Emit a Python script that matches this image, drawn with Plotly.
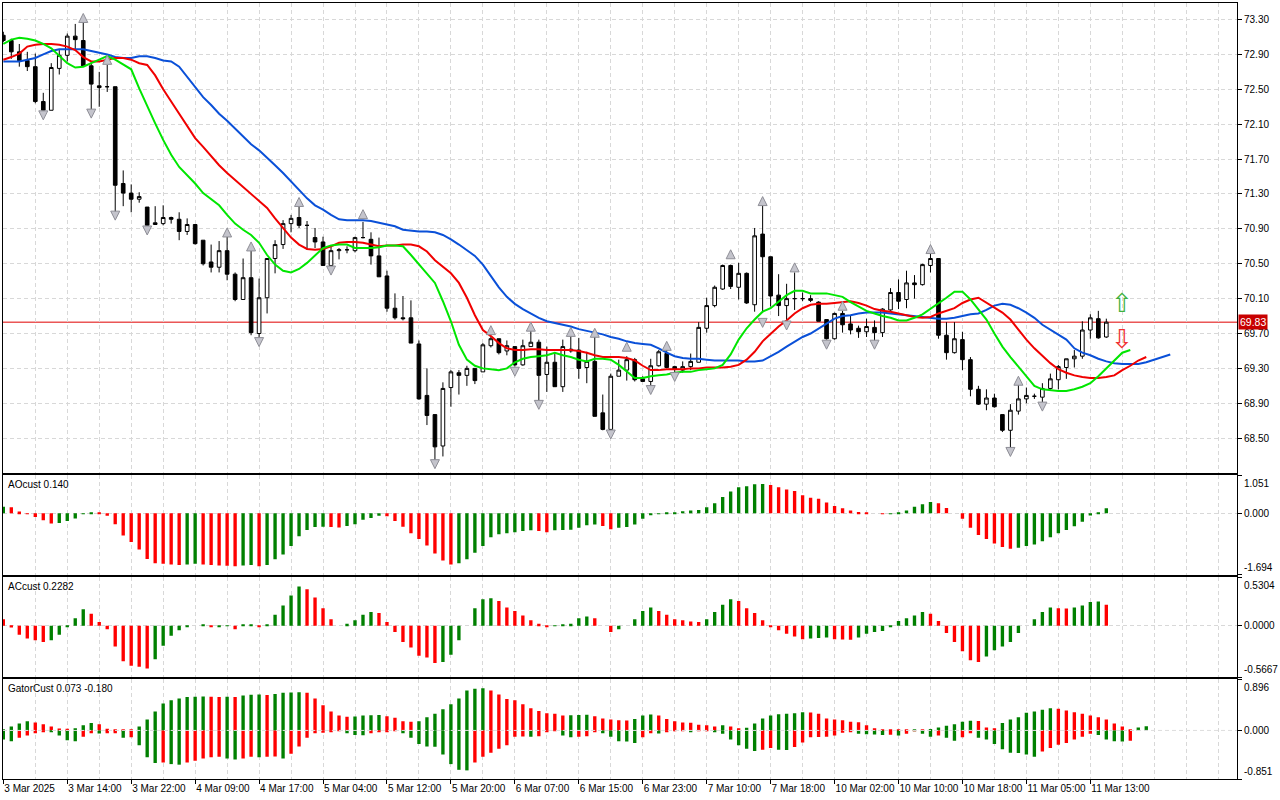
import plotly.graph_objects as go
from plotly.subplots import make_subplots

# hourly bars, bar 0 is the half hidden candle at the left edge (3 Mar)
opens = [73.12, 73.06, 72.93, 72.83, 72.76, 72.36, 72.26, 72.74, 72.89, 73.11,
         73.06, 72.77, 72.54, 72.53, 72.53, 71.42, 71.31, 71.24, 71.15, 70.95,
         70.96, 71.03, 71.01, 70.87, 70.95, 70.77, 70.52, 70.46, 70.65, 70.38,
         70.09, 70.34, 69.70, 70.11, 70.56, 70.72, 70.96, 71.03, 70.94, 70.80,
         70.75, 70.48, 70.65, 70.66, 70.65, 70.80, 70.78, 70.59, 70.36, 69.99,
         69.88, 69.88, 69.58, 68.99, 68.77, 68.41, 69.08, 69.25, 69.22, 69.30,
         69.26, 69.56, 69.64, 69.50, 69.55, 69.34, 69.55, 69.60, 69.23, 69.37,
         69.09, 69.52, 69.51, 69.31, 69.38, 68.79, 68.60, 69.21, 69.28, 69.40,
         69.18, 69.15, 69.33, 69.47, 69.32, 69.28, 69.32, 69.37, 69.76, 70.02,
         70.21, 70.48, 70.23, 70.39, 70.03, 70.84, 70.58, 70.14, 70.02, 70.10,
         70.10, 70.10, 70.06, 69.86, 69.64, 69.93, 69.81, 69.76, 69.72, 69.77,
         69.71, 69.97, 70.17, 70.09, 70.28, 70.26, 70.48, 70.56, 69.68, 69.48,
         69.63, 69.40, 69.06, 68.89, 68.96, 68.77, 68.59, 68.81, 68.95, 68.98,
         68.97, 69.07, 69.17, 69.31, 69.41, 69.44, 69.74, 69.87, 69.66]
highs = [73.16, 73.08, 73.02, 72.93, 72.91, 72.46, 72.80, 72.95, 73.14, 73.25,
         73.27, 72.81, 72.70, 72.78, 72.53, 71.57, 71.41, 71.32, 71.15, 71.16,
         71.17, 71.04, 71.09, 71.02, 70.95, 70.77, 70.72, 70.76, 70.82, 70.40,
         70.56, 70.65, 70.33, 70.56, 70.77, 71.00, 71.06, 71.17, 70.99, 70.91,
         70.81, 70.70, 70.68, 70.70, 70.81, 70.98, 70.86, 70.80, 70.42, 70.16,
         70.13, 70.08, 69.62, 69.30, 68.77, 69.14, 69.28, 69.28, 69.33, 69.30,
         69.59, 69.66, 69.64, 69.62, 69.55, 69.63, 69.73, 69.63, 69.55, 69.47,
         69.63, 69.68, 69.65, 69.49, 69.66, 69.00, 69.24, 69.40, 69.44, 69.42,
         69.21, 69.41, 69.51, 69.52, 69.33, 69.38, 69.47, 69.83, 70.11, 70.25,
         70.49, 70.49, 70.51, 70.40, 70.91, 71.17, 70.58, 70.38, 70.27, 70.40,
         70.17, 70.14, 70.07, 69.86, 69.94, 69.96, 69.91, 69.79, 69.87, 69.85,
         69.99, 70.22, 70.32, 70.42, 70.37, 70.50, 70.62, 70.56, 69.83, 69.83,
         69.72, 69.43, 69.10, 69.06, 69.01, 68.77, 68.89, 69.11, 69.08, 69.01,
         69.13, 69.24, 69.34, 69.41, 69.51, 69.84, 69.92, 69.96, 69.87]
lows = [73.04, 72.85, 72.76, 72.71, 72.34, 72.23, 72.26, 72.67, 72.82, 72.96,
        72.77, 72.24, 72.30, 72.47, 71.08, 71.16, 71.09, 71.20, 70.91, 70.95,
        70.94, 70.96, 70.77, 70.83, 70.72, 70.48, 70.40, 70.40, 70.31, 70.07,
        70.09, 69.68, 69.63, 69.93, 70.39, 70.67, 70.86, 70.91, 70.66, 70.68,
        70.48, 70.45, 70.55, 70.62, 70.63, 70.79, 70.49, 70.35, 69.95, 69.86,
        69.85, 69.59, 68.94, 68.65, 68.22, 68.29, 68.86, 69.00, 69.10, 69.12,
        69.26, 69.54, 69.46, 69.45, 69.32, 69.33, 69.55, 68.92, 69.03, 69.09,
        69.03, 69.48, 69.18, 69.13, 68.75, 68.59, 68.58, 69.21, 69.16, 69.15,
        69.15, 69.08, 69.32, 69.30, 69.25, 69.25, 69.28, 69.37, 69.71, 70.00,
        70.20, 70.21, 70.09, 70.04, 69.95, 69.94, 70.01, 69.90, 69.78, 69.97,
        70.07, 70.06, 69.84, 69.63, 69.63, 69.71, 69.69, 69.65, 69.66, 69.61,
        69.66, 69.96, 69.98, 69.99, 70.10, 70.25, 70.40, 69.64, 69.40, 69.47,
        69.28, 68.98, 68.88, 68.82, 68.85, 68.57, 68.37, 68.77, 68.90, 68.95,
        68.90, 69.05, 69.06, 69.18, 69.31, 69.41, 69.64, 69.64, 69.65]
closes = [73.06, 72.93, 72.83, 72.76, 72.36, 72.26, 72.75, 72.89, 73.11, 73.07,
          72.77, 72.56, 72.52, 72.53, 71.40, 71.31, 71.24, 71.27, 70.94, 70.97,
          71.03, 71.01, 70.87, 70.95, 70.73, 70.50, 70.46, 70.65, 70.38, 70.09,
          70.34, 69.71, 70.11, 70.56, 70.72, 70.96, 71.02, 70.94, 70.94, 70.75,
          70.48, 70.65, 70.66, 70.66, 70.80, 70.80, 70.59, 70.35, 69.99, 69.88,
          69.87, 69.59, 68.95, 68.76, 68.40, 69.07, 69.26, 69.22, 69.30, 69.16,
          69.57, 69.64, 69.48, 69.56, 69.34, 69.56, 69.60, 69.22, 69.37, 69.09,
          69.55, 69.50, 69.30, 69.38, 68.75, 68.60, 69.21, 69.28, 69.40, 69.17,
          69.15, 69.33, 69.49, 69.31, 69.29, 69.32, 69.38, 69.77, 70.02, 70.23,
          70.48, 70.24, 70.39, 70.05, 70.82, 70.58, 70.13, 70.02, 70.10, 70.10,
          70.10, 70.08, 69.84, 69.64, 69.93, 69.80, 69.74, 69.72, 69.78, 69.71,
          69.98, 70.17, 70.07, 70.28, 70.26, 70.49, 70.56, 69.68, 69.48, 69.64,
          69.40, 69.06, 68.89, 68.96, 68.86, 68.59, 68.82, 68.95, 68.99, 68.98,
          69.07, 69.18, 69.32, 69.41, 69.44, 69.74, 69.88, 69.65, 69.83]

# alligator lines, already shifted forward (jaw 8, teeth 5, lips 3 bars)
jaw = [72.82, 72.82, 72.82, 72.84, 72.86, 72.90, 72.94, 72.96, 72.96, 72.96,
       72.96, 72.94, 72.92, 72.90, 72.87, 72.86, 72.86, 72.88, 72.88, 72.86,
       72.83, 72.82, 72.76, 72.64, 72.52, 72.41, 72.32, 72.22, 72.14, 72.05,
       71.96, 71.87, 71.80, 71.72, 71.63, 71.54, 71.44, 71.35, 71.25, 71.17,
       71.12, 71.06, 71.01, 71.00, 71.00, 71.00, 70.99, 70.97, 70.95, 70.93,
       70.89, 70.88, 70.87, 70.87, 70.86, 70.83, 70.78, 70.72, 70.66, 70.59,
       70.49, 70.36, 70.23, 70.12, 70.04, 69.98, 69.93, 69.88, 69.84, 69.82,
       69.80, 69.78, 69.75, 69.73, 69.71, 69.69, 69.66, 69.64, 69.61, 69.59,
       69.58, 69.57, 69.53, 69.48, 69.44, 69.42, 69.41, 69.41, 69.40, 69.39,
       69.39, 69.39, 69.39, 69.38, 69.38, 69.39, 69.44, 69.49, 69.55, 69.61,
       69.66, 69.70, 69.76, 69.82, 69.87, 69.90, 69.91, 69.93, 69.94, 69.94,
       69.94, 69.93, 69.92, 69.91, 69.90, 69.89, 69.88, 69.87, 69.87, 69.88,
       69.90, 69.92, 69.93, 69.97, 70.02, 70.04, 70.03, 69.99, 69.94, 69.88,
       69.80, 69.74, 69.69, 69.63, 69.53, 69.48, 69.45, 69.41, 69.38, 69.36,
       69.35, 69.35, 69.35, 69.37, 69.40, 69.43, 69.46]
teeth = [72.84, 72.87, 72.91, 72.99, 73.01, 73.02, 73.02, 73.01, 72.99, 72.95,
         72.87, 72.82, 72.82, 72.84, 72.86, 72.86, 72.84, 72.80, 72.78, 72.66,
         72.50, 72.36, 72.22, 72.07, 71.94, 71.84, 71.73, 71.63, 71.54, 71.46,
         71.37, 71.29, 71.21, 71.14, 71.02, 70.91, 70.80, 70.72, 70.67, 70.66,
         70.67, 70.70, 70.74, 70.75, 70.75, 70.74, 70.72, 70.70, 70.71, 70.71,
         70.72, 70.72, 70.70, 70.64, 70.54, 70.47, 70.39, 70.28, 70.11, 69.91,
         69.74, 69.67, 69.59, 69.53, 69.51, 69.51, 69.52, 69.52, 69.51, 69.51,
         69.51, 69.51, 69.50, 69.48, 69.45, 69.43, 69.43, 69.43, 69.42, 69.39,
         69.33, 69.28, 69.28, 69.29, 69.29, 69.29, 69.30, 69.30, 69.31, 69.31,
         69.31, 69.32, 69.34, 69.40, 69.49, 69.61, 69.70, 69.78, 69.85, 69.93,
         69.99, 70.03, 70.04, 70.04, 70.05, 70.06, 70.07, 70.05, 70.02, 69.98,
         69.96, 69.95, 69.93, 69.91, 69.89, 69.88, 69.89, 69.93, 69.96, 69.99,
         70.05, 70.09, 70.11, 70.05, 69.99, 69.94, 69.86, 69.74, 69.63, 69.53,
         69.44, 69.36, 69.29, 69.25, 69.22, 69.20, 69.19, 69.19, 69.20, 69.22,
         69.28, 69.33, 69.39, 69.43]
lips = [73.02, 73.07, 73.09, 73.08, 73.06, 73.02, 72.97, 72.89, 72.80, 72.75,
        72.76, 72.80, 72.84, 72.88, 72.84, 72.78, 72.73, 72.51, 72.30, 72.11,
        71.92, 71.75, 71.61, 71.52, 71.42, 71.31, 71.24, 71.17, 71.06, 70.96,
        70.89, 70.83, 70.74, 70.60, 70.49, 70.42, 70.40, 70.44, 70.51, 70.60,
        70.68, 70.71, 70.72, 70.72, 70.68, 70.68, 70.68, 70.69, 70.71, 70.71,
        70.70, 70.60, 70.49, 70.39, 70.28, 70.07, 69.84, 69.57, 69.40, 69.33,
        69.30, 69.29, 69.28, 69.30, 69.37, 69.41, 69.43, 69.44, 69.45, 69.48,
        69.45, 69.43, 69.40, 69.38, 69.41, 69.41, 69.40, 69.34, 69.26, 69.19,
        69.19, 69.21, 69.22, 69.23, 69.25, 69.26, 69.26, 69.28, 69.29, 69.30,
        69.34, 69.46, 69.63, 69.76, 69.86, 69.95, 69.99, 70.07, 70.14, 70.19,
        70.19, 70.16, 70.16, 70.16, 70.14, 70.12, 70.06, 70.01, 69.96, 69.93,
        69.90, 69.88, 69.85, 69.85, 69.88, 69.92, 69.98, 70.04, 70.11, 70.18,
        70.18, 70.09, 69.98, 69.86, 69.70, 69.55, 69.43, 69.32, 69.21, 69.10,
        69.06, 69.05, 69.04, 69.04, 69.06, 69.09, 69.13, 69.21, 69.30, 69.38,
        69.48, 69.51]

# fractal arrows (bar index, price where the arrow sits)
fractal_up_bar = [10, 13, 28, 31, 37, 45, 61, 66, 71, 74, 78, 83, 91, 95, 99, 105, 116, 127]
fractal_up_price = [73.37, 72.89, 70.91, 70.75, 71.26, 71.12, 69.79, 69.83, 69.77, 69.76,
                    69.60, 69.61, 70.66, 71.27, 70.51, 70.07, 70.72, 69.21]
fractal_dn_bar = [5, 11, 14, 18, 32, 41, 54, 64, 67, 76, 81, 84, 95, 98, 103, 109, 126, 130]
fractal_dn_price = [72.15, 72.17, 71.00, 70.83, 69.55, 70.37, 68.15, 69.21, 68.83, 68.49,
                    69.00, 69.15, 69.77, 69.74, 69.52, 69.52, 68.29, 68.81]

# signal arrows to the right of the last bar
signal_bar = 140
signal_up_price = 70.05
signal_dn_price = 69.64

ao = [0.18, 0.17, 0.05, -0.01, -0.10, -0.19, -0.28, -0.27, -0.21, -0.14,
      -0.01, 0.02, 0.01, -0.07, -0.30, -0.61, -0.79, -1.00, -1.26, -1.38,
      -1.39, -1.41, -1.43, -1.41, -1.39, -1.41, -1.43, -1.44, -1.45, -1.46,
      -1.44, -1.43, -1.46, -1.43, -1.27, -1.14, -0.90, -0.63, -0.46, -0.38,
      -0.37, -0.38, -0.39, -0.35, -0.30, -0.18, -0.13, -0.07, -0.08, -0.21,
      -0.37, -0.55, -0.71, -0.89, -1.11, -1.30, -1.41, -1.38, -1.27, -1.09,
      -0.90, -0.66, -0.58, -0.55, -0.52, -0.49, -0.47, -0.49, -0.52, -0.47,
      -0.46, -0.45, -0.40, -0.33, -0.31, -0.35, -0.44, -0.40, -0.38, -0.31,
      -0.15, -0.03, -0.01, 0.01, 0.03, 0.06, 0.08, 0.09, 0.17, 0.28,
      0.45, 0.60, 0.72, 0.75, 0.80, 0.81, 0.78, 0.72, 0.66, 0.62,
      0.50, 0.43, 0.40, 0.30, 0.20, 0.14, 0.08, 0.04, 0.03, 0.00,
      -0.02, -0.01, 0.03, 0.08, 0.18, 0.25, 0.31, 0.28, 0.15, 0.00,
      -0.15, -0.40, -0.60, -0.71, -0.83, -0.93, -0.98, -0.95, -0.90, -0.86,
      -0.77, -0.66, -0.55, -0.46, -0.36, -0.23, -0.06, 0.02, 0.14]
ac = [0.07, -0.02, -0.10, -0.14, -0.16, -0.18, -0.16, -0.10, -0.01, 0.08,
      0.18, 0.13, 0.04, -0.04, -0.23, -0.39, -0.44, -0.45, -0.47, -0.37,
      -0.22, -0.11, -0.05, -0.01, 0.00, 0.005, -0.015, -0.01, -0.005, -0.04,
      0.005, 0.01, -0.01, 0.01, 0.12, 0.22, 0.33, 0.43, 0.40, 0.31,
      0.19, 0.07, 0.00, 0.02, 0.06, 0.12, 0.15, 0.14, 0.04, -0.07,
      -0.18, -0.24, -0.33, -0.35, -0.41, -0.40, -0.32, -0.16, 0.00, 0.19,
      0.29, 0.30, 0.27, 0.20, 0.16, 0.11, 0.06, 0.02, -0.01, -0.005,
      0.01, 0.02, 0.08, 0.10, 0.08, 0.00, -0.07, -0.04, 0.00, 0.07,
      0.16, 0.20, 0.16, 0.12, 0.07, 0.06, 0.045, 0.04, 0.07, 0.15,
      0.23, 0.29, 0.27, 0.19, 0.14, 0.06, -0.01, -0.05, -0.09, -0.12,
      -0.15, -0.14, -0.135, -0.13, -0.15, -0.152, -0.155, -0.13, -0.09, -0.07,
      -0.06, -0.01, 0.05, 0.08, 0.11, 0.15, 0.13, 0.05, -0.08, -0.18,
      -0.28, -0.38, -0.40, -0.34, -0.27, -0.23, -0.18, -0.08, 0.00, 0.07,
      0.15, 0.20, 0.19, 0.188, 0.20, 0.22, 0.26, 0.265, 0.2282]
gator_up = [0.02, 0.07, 0.12, 0.16, 0.14, 0.11, 0.07, 0.035, 0.03, 0.04,
            0.09, 0.13, 0.11, 0.03, 0.02, 0.02, 0.02, 0.07, 0.19, 0.33,
            0.47, 0.53, 0.56, 0.585, 0.59, 0.595, 0.59, 0.585, 0.59, 0.585,
            0.61, 0.625, 0.63, 0.62, 0.64, 0.66, 0.665, 0.67, 0.66, 0.56,
            0.44, 0.33, 0.26, 0.24, 0.245, 0.26, 0.265, 0.27, 0.25, 0.22,
            0.16, 0.15, 0.16, 0.23, 0.29, 0.37, 0.46, 0.56, 0.70, 0.73,
            0.74, 0.70, 0.63, 0.55, 0.53, 0.46, 0.39, 0.34, 0.30, 0.29,
            0.26, 0.265, 0.27, 0.275, 0.25, 0.21, 0.19, 0.18, 0.175, 0.20,
            0.26, 0.28, 0.26, 0.20, 0.16, 0.14, 0.135, 0.10, 0.09, 0.07,
            0.09, 0.07, 0.04, 0.045, 0.12, 0.21, 0.26, 0.285, 0.29, 0.30,
            0.32, 0.315, 0.29, 0.21, 0.19, 0.18, 0.15, 0.145, 0.09, 0.04,
            0.02, 0.01, 0.005, 0.003, 0.02, 0.015, 0.025, 0.05, 0.08, 0.11,
            0.15, 0.17, 0.165, 0.05, 0.04, 0.13, 0.19, 0.23, 0.31, 0.33,
            0.36, 0.39, 0.38, 0.35, 0.32, 0.29, 0.26, 0.23, 0.19, 0.12,
            0.07, 0.01, 0.05, 0.073]
gator_dn = [-0.16, -0.19, -0.13, -0.09, -0.05, -0.02, -0.03, -0.09, -0.17, -0.19,
            -0.11, -0.05, -0.052, -0.05, -0.05, -0.13, -0.12, -0.26, -0.47, -0.57,
            -0.56, -0.59, -0.60, -0.56, -0.53, -0.49, -0.47, -0.46, -0.49, -0.51,
            -0.49, -0.46, -0.47, -0.46, -0.455, -0.49, -0.41, -0.28, -0.13, -0.05,
            -0.04, -0.03, -0.01, -0.05, -0.08, -0.085, -0.05, -0.03, -0.02, -0.01,
            -0.05, -0.13, -0.24, -0.28, -0.285, -0.42, -0.59, -0.69, -0.70, -0.56,
            -0.46, -0.39, -0.32, -0.26, -0.11, -0.105, -0.11, -0.10, -0.02, -0.015,
            -0.09, -0.12, -0.11, -0.10, -0.02, -0.05, -0.11, -0.19, -0.195, -0.22,
            -0.12, -0.05, -0.055, -0.02, -0.01, -0.005, -0.03, -0.01, -0.008, -0.03,
            -0.06, -0.16, -0.26, -0.32, -0.36, -0.34, -0.31, -0.34, -0.345, -0.29,
            -0.21, -0.12, -0.115, -0.11, -0.09, -0.04, -0.03, -0.06, -0.065, -0.07,
            -0.08, -0.075, -0.09, -0.06, -0.01, -0.06, -0.11, -0.09, -0.13, -0.18,
            -0.12, -0.05, -0.13, -0.16, -0.24, -0.33, -0.39, -0.395, -0.42, -0.46,
            -0.37, -0.31, -0.25, -0.22, -0.16, -0.11, -0.06, -0.08, -0.16, -0.19,
            -0.195, -0.18]

# scale limits printed on the indicator windows
ao_scale = (-1.694, 1.051)
ac_scale = (-0.5667, 0.5304)
gator_scale = (-0.851, 0.896)

price_ticks = [68.50, 68.90, 69.30, 69.70, 70.10, 70.50, 70.90,
               71.30, 71.70, 72.10, 72.50, 72.90, 73.30]
tick_bars = [0, 8, 16, 24, 32, 40, 48, 56, 64, 72, 80, 88, 96, 104, 112, 120, 128, 136]
tick_labels = ["3 Mar 2025", "3 Mar 14:00", "3 Mar 22:00", "4 Mar 09:00", "4 Mar 17:00",
               "5 Mar 04:00", "5 Mar 12:00", "5 Mar 20:00", "6 Mar 07:00", "6 Mar 15:00",
               "6 Mar 23:00", "7 Mar 10:00", "7 Mar 18:00", "10 Mar 02:00", "10 Mar 10:00",
               "10 Mar 18:00", "11 Mar 05:00", "11 Mar 13:00"]

GREEN = "#008000"
RED = "#ff0000"
GRID = "#d8d8d8"
DASH = "4px,3px"
FONT = "Liberation Sans"


def trend_colors(values, first_up=True, by_size=False):
    # green when the bar grows against the previous one, red when it shrinks
    colors = []
    for i, v in enumerate(values):
        if i == 0:
            up = first_up
        elif by_size:
            up = abs(v) > abs(values[i - 1])
        else:
            up = v > values[i - 1]
        colors.append(GREEN if up else RED)
    return colors


fig = make_subplots(rows=4, cols=1, shared_xaxes=True)
bars = list(range(len(closes)))

fig.add_trace(go.Candlestick(
    x=bars, open=opens, high=highs, low=lows, close=closes,
    increasing=dict(line=dict(color="black", width=1), fillcolor="white"),
    decreasing=dict(line=dict(color="black", width=1), fillcolor="black"),
    whiskerwidth=0, hoverinfo="skip"), row=1, col=1)

for vals, color in ((jaw, "#0a50d8"), (teeth, "#f00000"), (lips, "#00e600")):
    fig.add_trace(go.Scatter(x=list(range(len(vals))), y=vals, mode="lines",
                             line=dict(color=color, width=2)), row=1, col=1)

fig.add_trace(go.Scatter(x=fractal_up_bar, y=fractal_up_price, mode="markers",
                         marker=dict(symbol="arrow-up", size=9, color="#c4c4cc",
                                     line=dict(color="#8e8e96", width=1))), row=1, col=1)
fig.add_trace(go.Scatter(x=fractal_dn_bar, y=fractal_dn_price, mode="markers",
                         marker=dict(symbol="arrow-down", size=9, color="#c4c4cc",
                                     line=dict(color="#8e8e96", width=1))), row=1, col=1)

# indicator windows
fig.add_trace(go.Bar(x=bars, y=ao, width=0.42, marker_color=trend_colors(ao),
                     marker_line_width=0), row=2, col=1)
fig.add_trace(go.Bar(x=bars, y=ac, width=0.42, marker_color=trend_colors(ac, first_up=False),
                     marker_line_width=0), row=3, col=1)
fig.add_trace(go.Bar(x=list(range(len(gator_up))), y=gator_up, width=0.42,
                     marker_color=trend_colors(gator_up), marker_line_width=0), row=4, col=1)
fig.add_trace(go.Bar(x=list(range(len(gator_dn))), y=gator_dn, width=0.42,
                     marker_color=trend_colors(gator_dn, by_size=True),
                     marker_line_width=0), row=4, col=1)

# last price line and its label
last_price = closes[-1]
fig.add_shape(type="line", xref="x domain", yref="y", x0=0, x1=1, y0=last_price, y1=last_price,
              line=dict(color="#e00000", width=1), layer="below")
fig.add_annotation(xref="x domain", yref="y", x=1, y=last_price, xanchor="left", xshift=1,
                   text=f"{last_price:.2f}", showarrow=False, bgcolor="#c80000", borderpad=1,
                   font=dict(color="white", size=10.5, family=FONT))

fig.add_annotation(x=signal_bar, y=signal_up_price, xref="x", yref="y", text="⇧", showarrow=False,
                   font=dict(size=26, color="#3fb13f", family="DejaVu Sans"))
fig.add_annotation(x=signal_bar, y=signal_dn_price, xref="x", yref="y", text="⇩", showarrow=False,
                   font=dict(size=26, color="#f03030", family="DejaVu Sans"))

# gator zero level drawn over the bars
fig.add_shape(type="line", xref="x4 domain", yref="y4", x0=0, x1=1, y0=0, y1=0,
              line=dict(color="#e0e0e0", width=1, dash=DASH), layer="above")

x_range = [-0.04, 154.35]
for r in range(1, 5):
    fig.update_xaxes(range=x_range, tickmode="array", tickvals=tick_bars, ticktext=tick_labels,
                     tickangle=0, automargin=False,
                     showgrid=True, gridcolor=GRID, griddash=DASH, gridwidth=1,
                     minor=dict(tick0=0, dtick=4, showgrid=True, gridcolor=GRID,
                                griddash=DASH, ticks=""),
                     showticklabels=(r == 4), ticks="outside" if r == 4 else "",
                     ticklen=4, tickcolor="black", ticklabelposition="outside right",
                     showline=True, linecolor="black", linewidth=1, mirror=True,
                     rangeslider=dict(visible=False), zeroline=False, row=r, col=1)

fig.update_yaxes(row=1, col=1, domain=[0.3943, 1.0], side="right", range=[68.10, 73.49],
                 tickmode="array", tickvals=price_ticks, tickformat=".2f", automargin=False,
                 ticks="outside", ticklen=4, tickcolor="black",
                 showgrid=True, gridcolor=GRID, griddash=DASH,
                 showline=True, linecolor="black", linewidth=1, mirror=True, zeroline=False)

panels = [(2, [0.2633, 0.3914], ao_scale, "0.000", 3, "AOcust 0.140"),
          (3, [0.1311, 0.2599], ac_scale, "0.0000", 4, "ACcust 0.2282"),
          (4, [0.0, 0.1285], gator_scale, "0.000", 3, "GatorCust 0.073 -0.180")]
for r, dom, scale, zero_txt, digits, title in panels:
    lo, hi = scale
    fig.update_yaxes(row=r, col=1, domain=dom, side="right", range=[lo, hi], automargin=False,
                     tickmode="array", tickvals=[hi, 0, lo], ticktext=["", zero_txt, ""],
                     ticks="outside", ticklen=4, tickcolor="black",
                     showgrid=True, gridcolor=GRID, griddash=DASH,
                     showline=True, linecolor="black", linewidth=1, mirror=True, zeroline=False)
    xd = f"x{r} domain"
    yd = f"y{r} domain"
    fig.add_annotation(xref=xd, yref=yd, x=1, y=1, xanchor="left", yanchor="top", xshift=5,
                       yshift=-1, text=f"{hi:.{digits}f}", showarrow=False)
    fig.add_annotation(xref=xd, yref=yd, x=1, y=0, xanchor="left", yanchor="bottom", xshift=5,
                       text=f"{lo:.{digits}f}", showarrow=False)
    fig.add_annotation(xref=xd, yref=yd, x=0, y=1, xanchor="left", yanchor="top", xshift=3,
                       yshift=-2, text=title, showarrow=False)

fig.update_layout(
    width=1280, height=800,
    margin=dict(l=3, r=43, t=3, b=21, autoexpand=False),
    plot_bgcolor="white", paper_bgcolor="white",
    showlegend=False, barmode="overlay", boxgap=0.35,
    font=dict(family=FONT, size=10, color="black"),
)

fig.write_html("out.html", config={"displayModeBar": False},
               post_script="document.body.style.margin='0';")
